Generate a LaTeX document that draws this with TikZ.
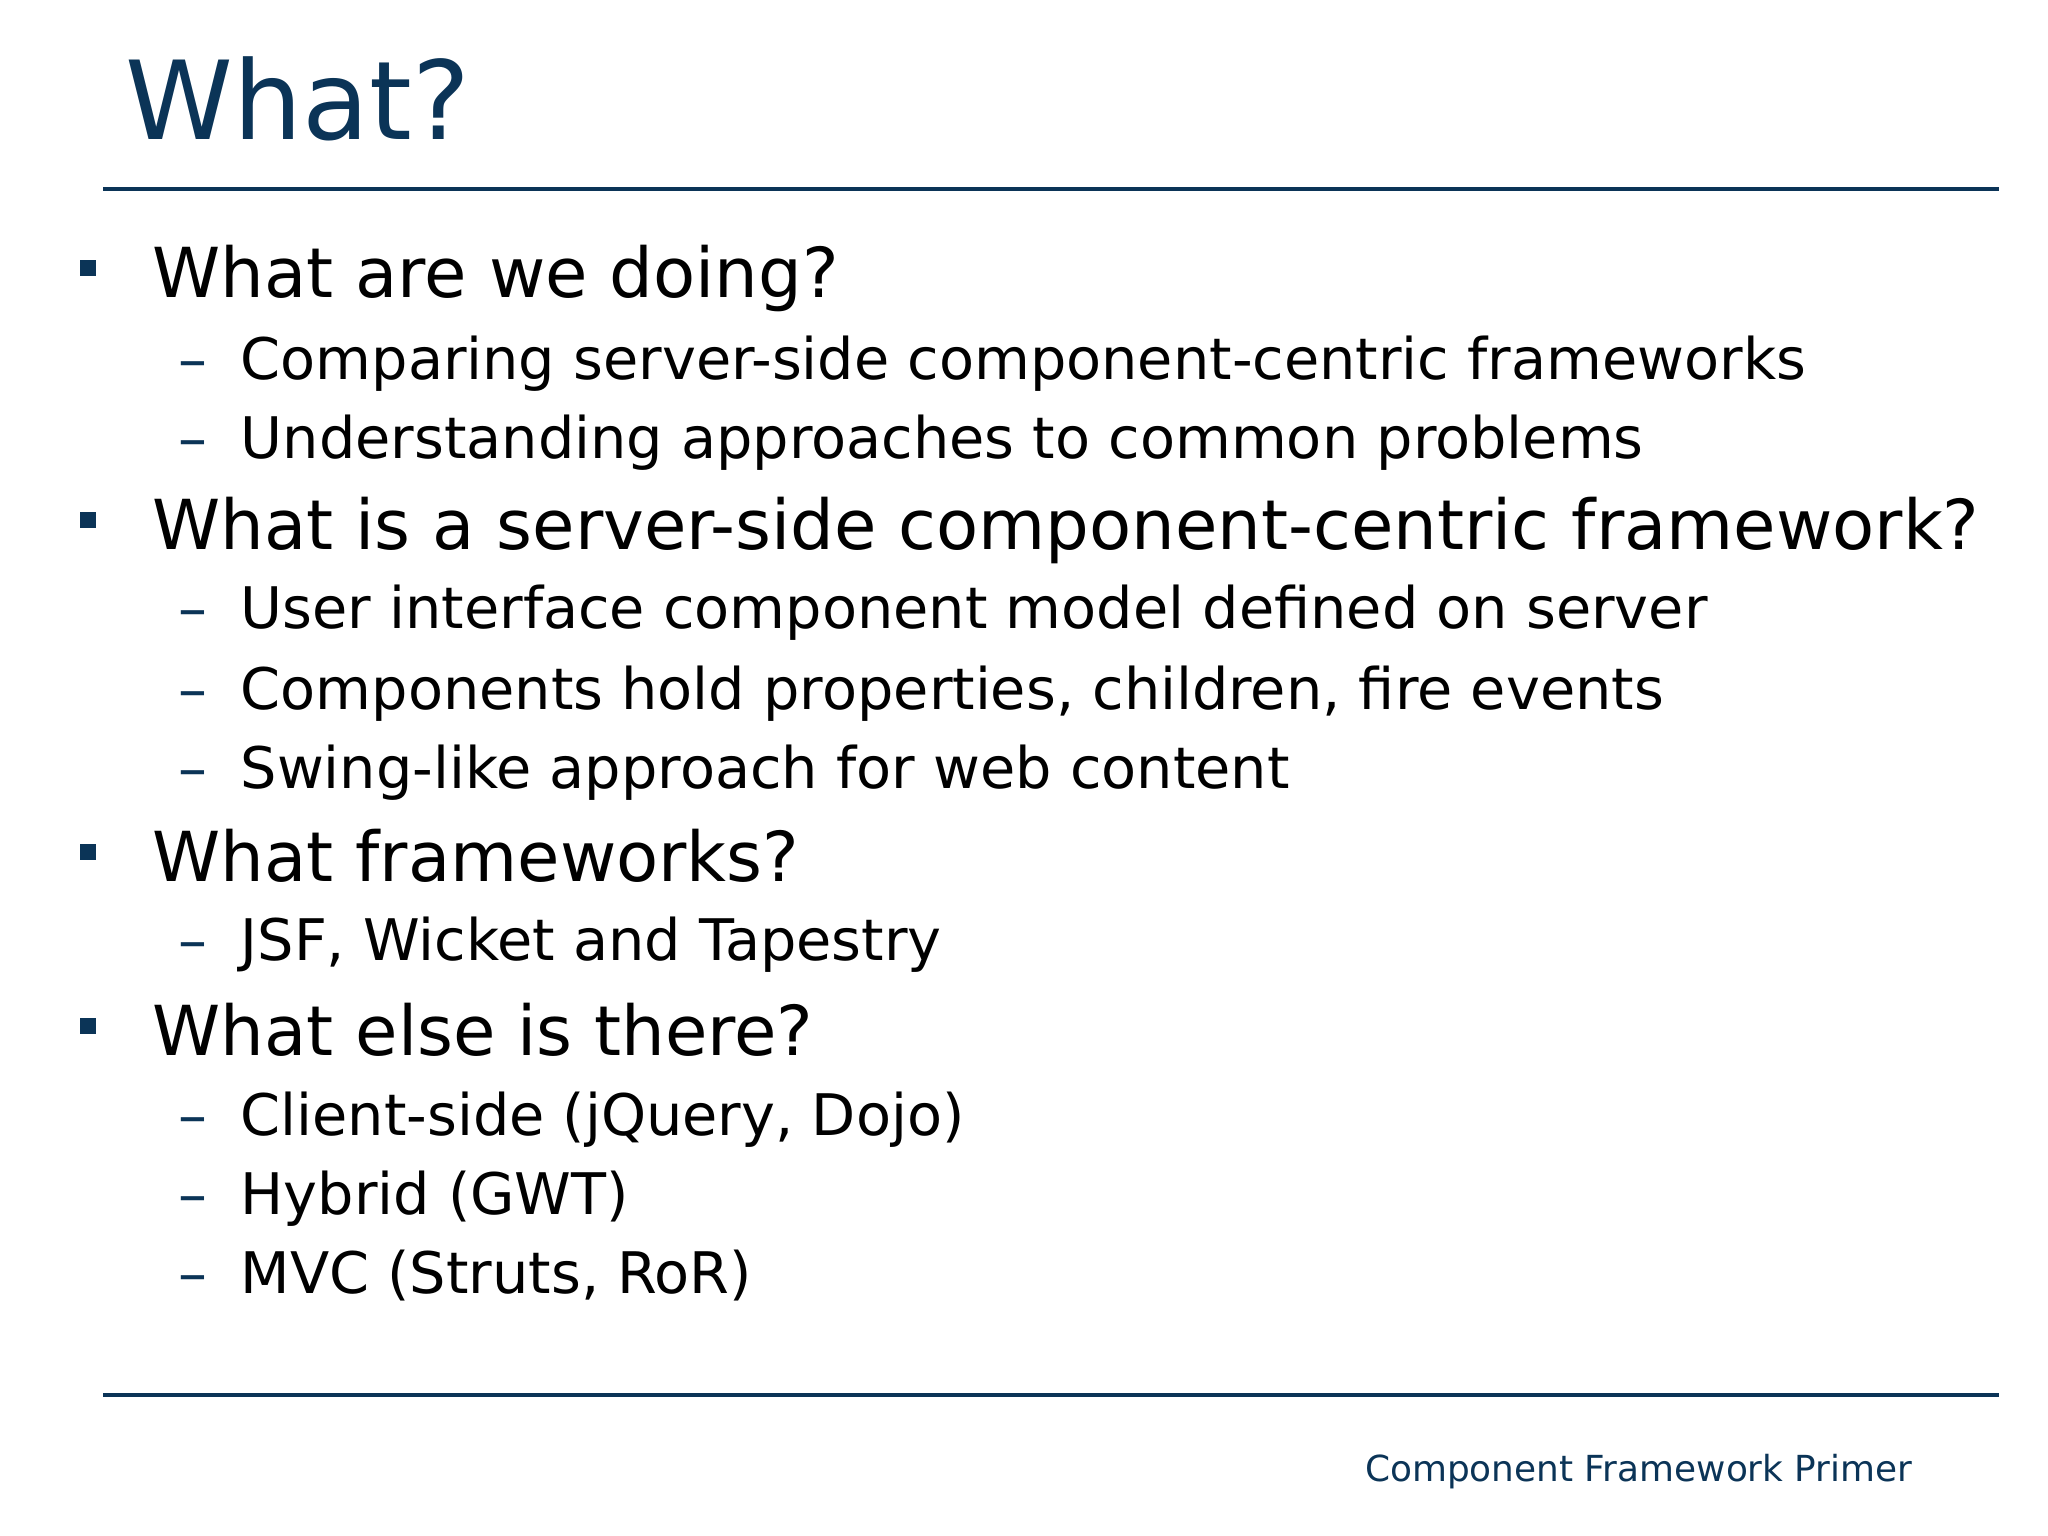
\documentclass[tikz,border=0pt]{standalone}
\usepackage{fontspec}
\setmainfont{DejaVu Sans}
\definecolor{navy}{HTML}{0B3457}
\begin{document}
\begin{tikzpicture}[x=0.01cm,y=-0.01cm,
  lone/.style={anchor=base west,inner sep=0,font=\fontsize{19.6}{24}\selectfont},
  ltwo/.style={anchor=base west,inner sep=0,font=\fontsize{16.3}{20}\selectfont},
  sq/.style={fill=navy,minimum size=0.16cm,inner sep=0},
  dsh/.style={anchor=base west,inner sep=0,text=navy,font=\fontsize{16.4}{20}\selectfont}]
\useasboundingbox (0,0) rectangle (2048,1536);
\node[anchor=base west,inner sep=0,text=navy,font=\fontsize{31}{36}\selectfont] (title) at (125,139) {What?};
\coordinate (t1) at (103,189); \coordinate (t2) at (1999,189);
\draw[navy,line width=1.3pt] (t1) -- (t2);
\coordinate (b1) at (103,1395); \coordinate (b2) at (1999,1395);
\draw[navy,line width=1.3pt] (b1) -- (b2);
\node[anchor=base east,inner sep=0,text=navy,font=\fontsize{10.2}{12}\selectfont] (foot) at (1913,1481) {Component Framework Primer};
\foreach \y/\t [count=\i] in {297/What are we doing?,549/What is a server-side component-centric framework?,881/What frameworks?,1055/What else is there?}{
  \node[sq] (s\i) at (88,\y-29) {};
  \node[lone] (l\i) at (152,\y) {\t};
}
\foreach \y/\t [count=\i] in {379/Comparing server-side component-centric frameworks,458/Understanding approaches to common problems,628/User interface component model defined on server,709/{Components hold properties, children, fire events},788/Swing-like approach for web content,960/{JSF, Wicket and Tapestry},1135/{Client-side (jQuery, Dojo)},1214/Hybrid (GWT),1293/{MVC (Struts, RoR)}}{
  \node[dsh] (d\i) at (178,\y) {–};
  \node[ltwo] (m\i) at (240,\y) {\t};
}
\end{tikzpicture}
\end{document}
